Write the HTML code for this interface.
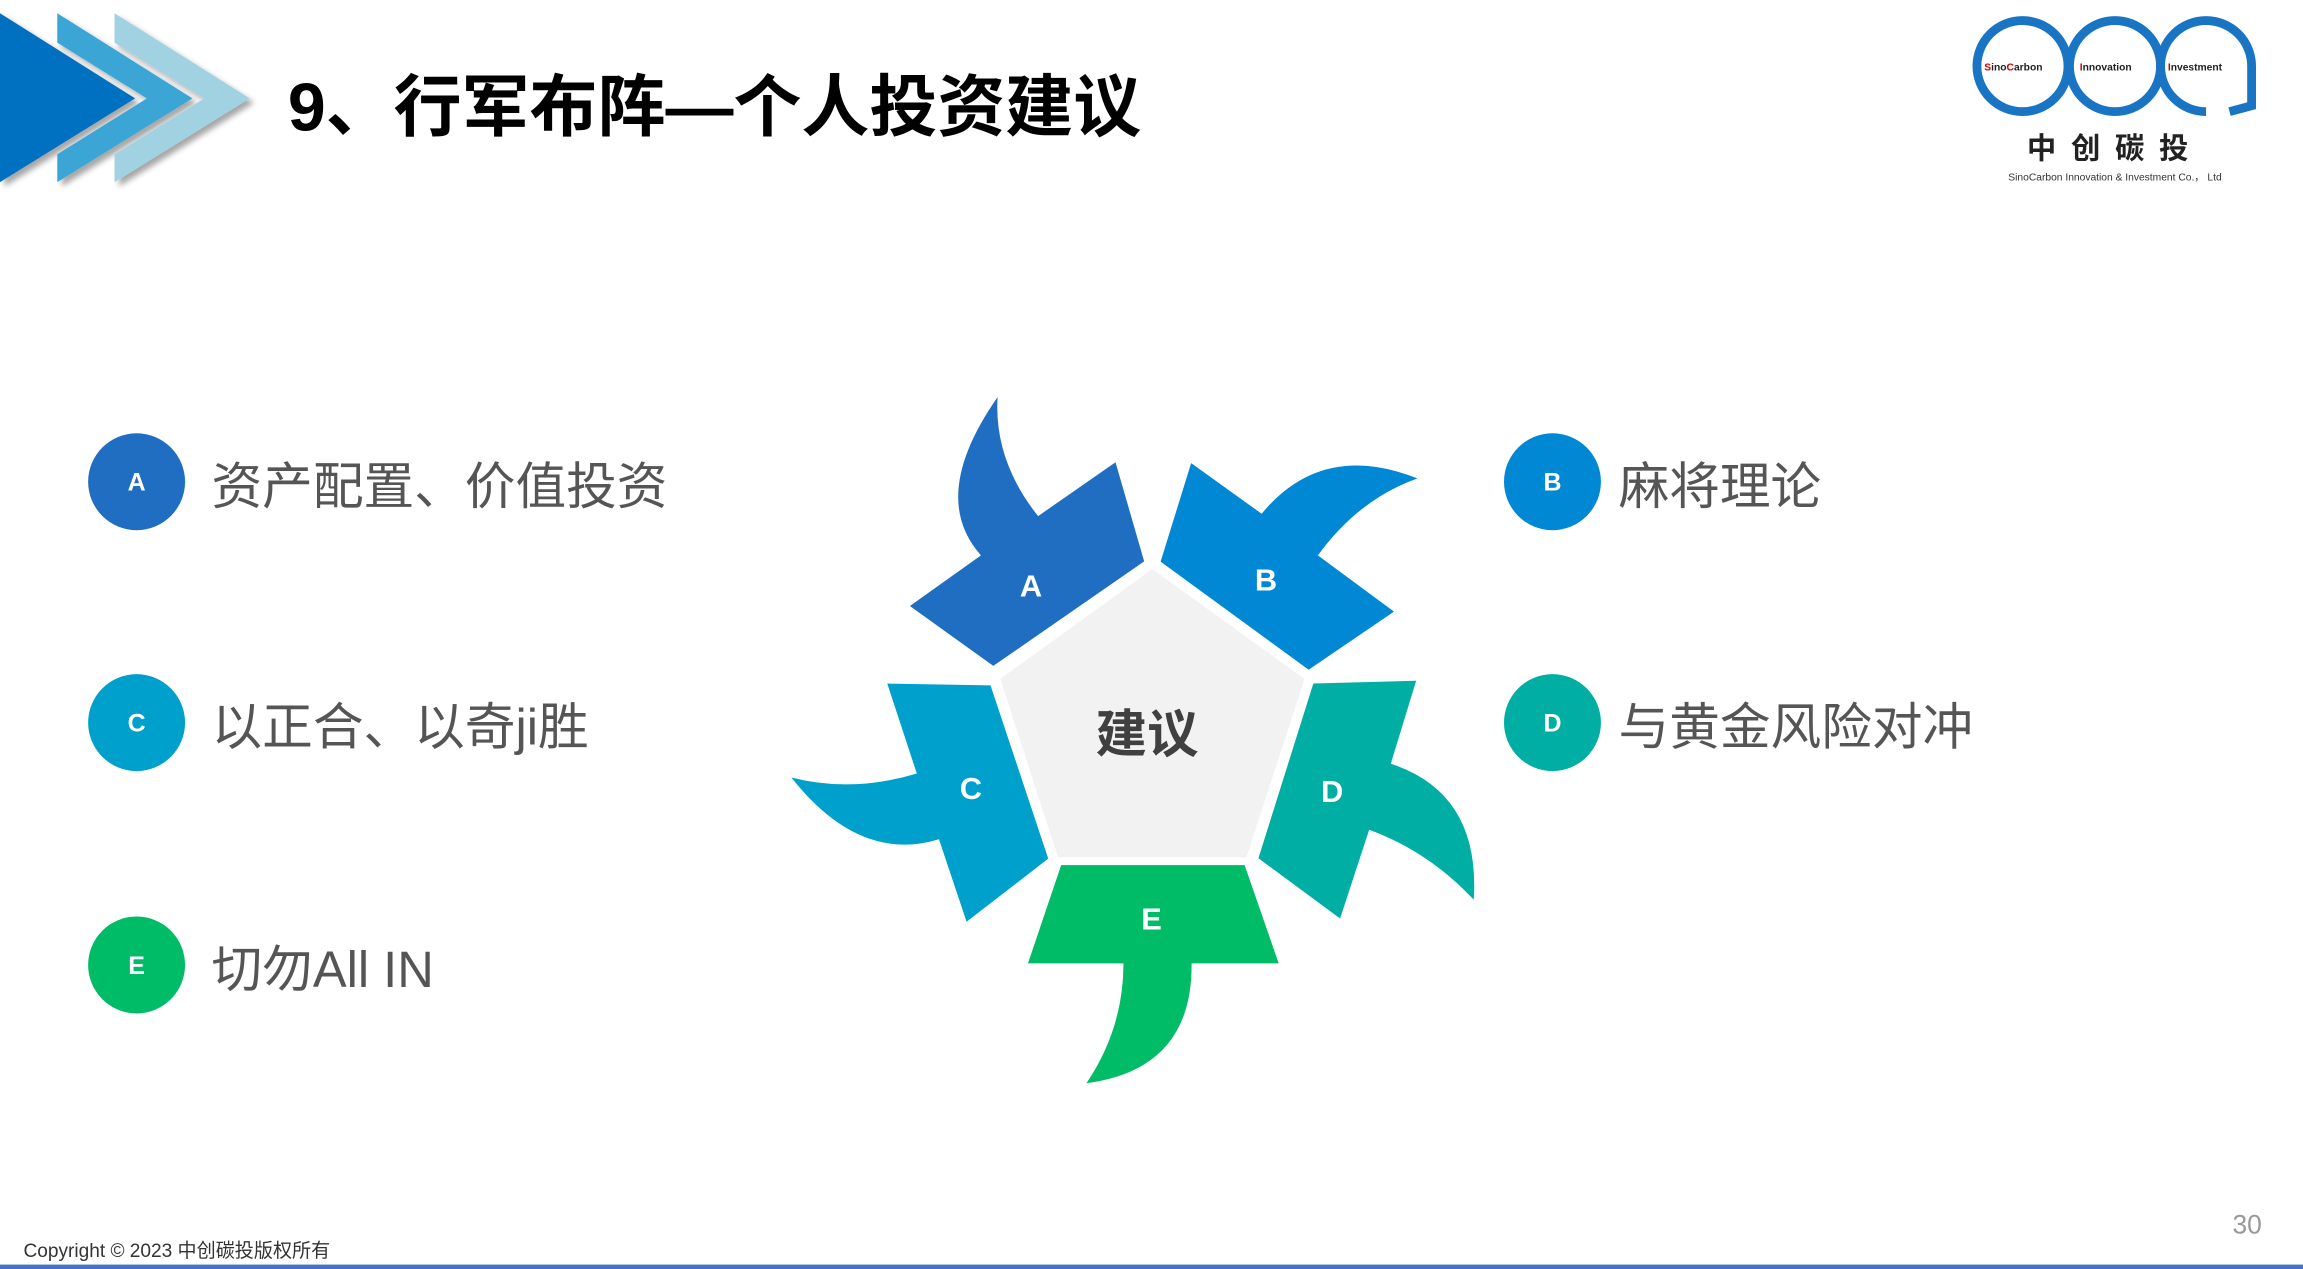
<!DOCTYPE html>
<html><head><meta charset="utf-8"><style>
html,body{margin:0;padding:0;background:#fff;}
svg{display:block;}
text{font-family:"Liberation Sans","Noto Sans CJK SC",sans-serif;}
</style></head><body>
<svg width="2303" height="1269" viewBox="0 0 1568 864" xmlns="http://www.w3.org/2000/svg">
<defs><filter id="sh" x="-20%" y="-20%" width="140%" height="140%"><feDropShadow dx="3" dy="3" stdDeviation="2" flood-color="#000" flood-opacity="0.35"/></filter></defs>
<g filter="url(#sh)">
<polygon points="0,9 92,67 0,124" fill="#0070C0"/>
<polygon points="39,9 131,67 39,124 39,105 100,67 39,29" fill="#3BA5D5"/>
<polygon points="78,9 170,67 78,124 78,105 139,67 78,29" fill="#A0D2E2"/>
</g>
<text x="196" y="89" font-size="46" font-weight="bold" fill="#000" textLength="581" lengthAdjust="spacingAndGlyphs">9、行军布阵—个人投资建议</text>

<g fill="none" stroke="#1A74C4" stroke-width="6">
<circle cx="1377" cy="45" r="31"/><circle cx="1440" cy="45" r="31"/><path d="M1502,76 A31,31 0 1 1 1533,45 L1533,72 1518,76"/>
</g>
<text x="1351" y="48" font-size="7" font-weight="bold" fill="#222"><tspan fill="#c00">S</tspan>ino<tspan fill="#c00">C</tspan>arbon</text>
<text x="1416" y="48" font-size="7" font-weight="bold" fill="#222"><tspan fill="#c00">I</tspan>nnovation</text>
<text x="1476" y="48" font-size="7" font-weight="bold" fill="#222"><tspan fill="#c00">I</tspan>nvestment</text>
<text x="1440" y="108" font-size="20" font-weight="bold" fill="#222" text-anchor="middle" letter-spacing="10">中创碳投</text>
<text x="1440" y="123" font-size="7" fill="#333" text-anchor="middle">SinoCarbon Innovation &amp; Investment Co.， Ltd</text>

<polygon points="784.6,387.5 888.2,462.2 848.7,583.7 720.3,583.7 681,462.2" fill="#F2F2F2"/>
<text x="781" y="512" font-size="35" font-weight="bold" fill="#404040" text-anchor="middle">建议</text>

<path d="M619.5,412.6 L667.9,378.1 Q632,338 679.2,270.4 Q676.6,313.5 706.8,351.4 L759.5,314.7 L779,382.2 L676.3,453.4 Z" fill="#1F6EC1"/>
<path d="M790.2,382.4 L811,315.3 L859,349.8 Q900,300 965.1,325.7 Q925,340 897.3,378.1 L949.1,416.4 L891,456 Z" fill="#0088D4"/>
<path d="M604.1,465.4 L674.4,466.6 L713.7,584.6 L658.1,627.6 L639.3,571.4 Q585,588 538.8,529.4 Q580,540 624.2,526.6 Z" fill="#00A0CD"/>
<path d="M894.2,465.4 L964.2,463.5 L946.9,520 Q1008,540 1003.4,612.6 Q973,580 932.2,564.9 L912.4,625.4 L856.8,584.3 Z" fill="#00AEA4"/>
<path d="M722.5,589 L847.4,589 L870.6,655.9 L811.3,655.9 Q812,728 739.7,737.5 Q765,700 764.9,655.9 L699.9,655.9 Z" fill="#00BC67"/>
<g font-size="21" font-weight="bold" fill="#fff" text-anchor="middle">
<text x="702" y="406">A</text><text x="862" y="402">B</text><text x="661" y="544">C</text><text x="907" y="546">D</text><text x="784" y="633">E</text>
</g>

<circle cx="93" cy="328" r="33" fill="#1F6EC1"/>
<circle cx="93" cy="492" r="33" fill="#00A0CD"/>
<circle cx="93" cy="657" r="33" fill="#00BC67"/>
<circle cx="1057" cy="328" r="33" fill="#0088D4"/>
<circle cx="1057" cy="492" r="33" fill="#00AEA4"/>
<g font-size="17" font-weight="bold" fill="#fff" text-anchor="middle">
<text x="93" y="334">A</text><text x="93" y="498">C</text><text x="93" y="663">E</text><text x="1057" y="334">B</text><text x="1057" y="498">D</text>
</g>
<g font-size="34.5" fill="#555">
<text x="144" y="343">资产配置、价值投资</text>
<text x="144" y="507">以正合、以奇ji胜</text>
<text x="144" y="672">切勿All IN</text>
<text x="1102" y="343">麻将理论</text>
<text x="1102" y="507">与黄金风险对冲</text>
</g>

<text x="16" y="856" font-size="13" fill="#333">Copyright © 2023 中创碳投版权所有</text>
<text x="1540" y="840" font-size="18" fill="#999" text-anchor="end">30</text>
<rect x="0" y="861" width="1568" height="3" fill="#4472C4"/>
</svg>
</body></html>
